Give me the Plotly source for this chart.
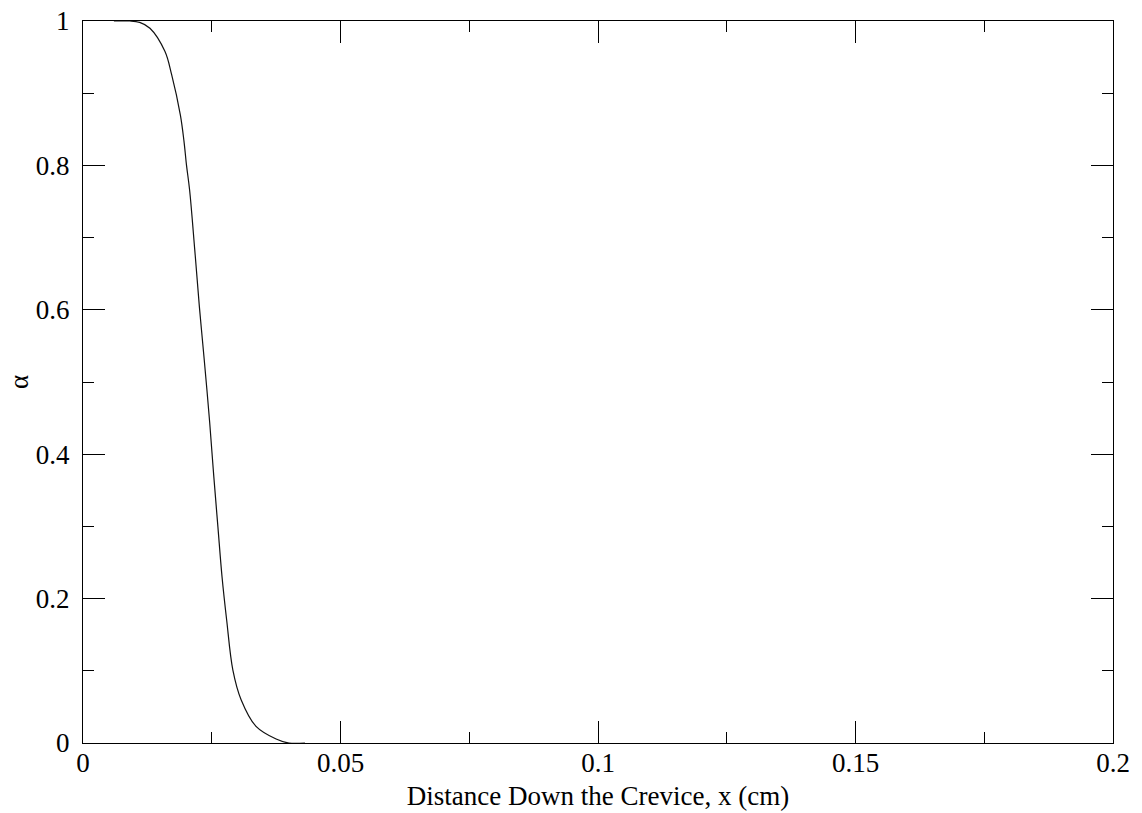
import plotly.graph_objects as go

# Curve values
x_cm = [0.0060, 0.0091, 0.0110, 0.0130, 0.0159, 0.0172, 0.0189, 0.0196, 0.0201,
        0.0207, 0.0217, 0.0226, 0.0235, 0.0246, 0.0254, 0.0262, 0.0270,
        0.0279, 0.0291, 0.0307, 0.0336, 0.0375, 0.0400, 0.0431]
alpha = [1.000, 1.000, 0.998, 0.990, 0.958, 0.926, 0.870, 0.834, 0.800,
         0.766, 0.683, 0.604, 0.534, 0.444, 0.369, 0.299, 0.230,
         0.170, 0.101, 0.060, 0.023, 0.0055, 0.000, 0.000]

x_ticks = [0, 0.05, 0.1, 0.15, 0.2]
x_tick_labels = ["0", "0.05", "0.1", "0.15", "0.2"]
y_ticks = [0, 0.2, 0.4, 0.6, 0.8, 1]
y_tick_labels = ["0", "0.2", "0.4", "0.6", "0.8", "1"]

FONT = "Liberation Serif"

fig = go.Figure()
fig.add_trace(go.Scatter(x=x_cm, y=alpha, mode="lines",
                         line=dict(color="#111111", width=1.2),
                         line_shape="spline", showlegend=False))

axis_common = dict(
    showgrid=False, zeroline=False, showline=True, linecolor="black", linewidth=1.2,
    mirror="allticks", ticks="inside", ticklen=22, tickwidth=1.2, tickcolor="black",
    tickfont=dict(family=FONT, size=27, color="black"), automargin=False,
    ticklabeloverflow="allow",
    minor=dict(ticks="inside", ticklen=11, tickwidth=1.2, tickcolor="black", showgrid=False),
)

fig.update_xaxes(range=[0, 0.2], tickvals=x_ticks, ticktext=x_tick_labels,
                 minor_dtick=0.025, minor_tick0=0,
                 title=dict(text="Distance Down the Crevice, x (cm)",
                            font=dict(family=FONT, size=27, color="black"), standoff=9),
                 ticklabelstandoff=-5, **axis_common)
fig.update_yaxes(range=[0, 1], tickvals=y_ticks, ticktext=y_tick_labels,
                 minor_dtick=0.1, minor_tick0=0,
                 ticklabelstandoff=7, **axis_common)

# y-axis title placed as a rotated annotation so it can sit close to the page edge
fig.add_annotation(text="α", xref="paper", yref="paper", x=0, y=0.5,
                   xanchor="center", yanchor="middle", xshift=-64, textangle=-90,
                   showarrow=False, font=dict(family=FONT, size=27, color="black"))

# the page adds an 8px body margin, so the figure is sized to fit inside it
fig.update_layout(
    width=1134, height=805,
    margin=dict(l=75, r=29, t=13, b=70),
    paper_bgcolor="white", plot_bgcolor="white",
)

fig.write_html("out.html")
